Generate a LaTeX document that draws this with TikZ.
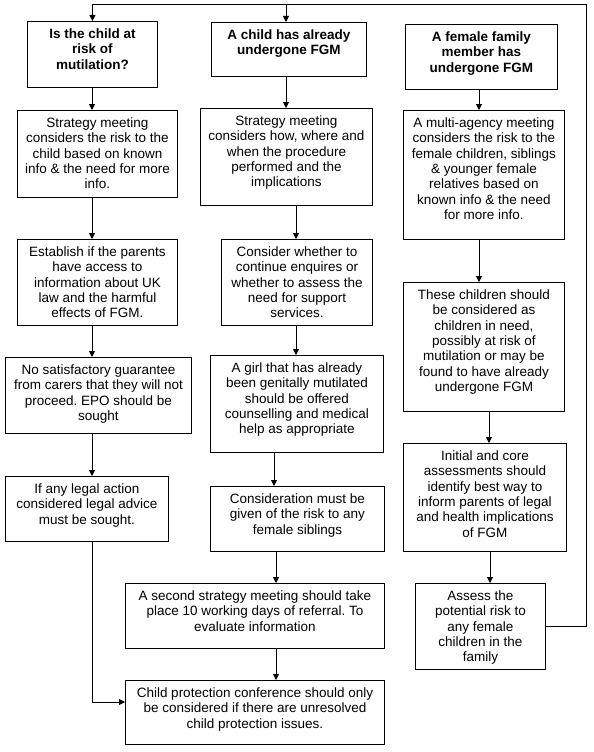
\documentclass[tikz,border=0pt]{standalone}
\usepackage{fontspec}
\setmainfont{Liberation Sans}
\usetikzlibrary{arrows.meta}
\tikzset{
  >={Triangle[length=6pt,width=6pt]},
  box/.style={draw=black,line width=0.9pt,inner sep=0pt,anchor=north west,
    font=\fontsize{13.5}{15.3}\selectfont},
  title/.style={box,font=\fontsize{13.5}{15.3}\selectfont\bfseries},
  flow/.style={->,line width=0.9pt,draw=black},
}
\frenchspacing
% top aligned text in a box of fixed size (pixels)
\newcommand{\boxtext}[3]{\parbox[t][#2pt][t]{#1pt}{\centering\vspace*{6.5pt}\strut #3}}

\begin{document}
\begin{tikzpicture}[x=1pt,y=-1pt]
  \useasboundingbox (0,0) rectangle (594,752);
  % headings
  \node[title] (A1) at (27,21) {\boxtext{130}{66}{Is the child at\\risk of\\mutilation?}};
  \node[title] (B1) at (211,22) {\boxtext{155}{54}{A child has already\\undergone FGM}};
  \node[title] (C1) at (405,24) {\boxtext{152}{65}{A female family\\member has\\undergone FGM}};
  % left column
  \node[box] (A2) at (17,110) {\boxtext{160}{87}{Strategy meeting\\considers the risk to the\\child based on known\\info \& the need for more\\info.}};
  \node[box] (A3) at (17,239) {\boxtext{160}{86}{Establish if the parents\\have access to\\information about UK\\law and the harmful\\effects of FGM.}};
  \node[box] (A4) at (5,357) {\boxtext{186}{76}{No satisfactory guarantee\\from carers that they will not\\proceed. EPO should be\\sought}};
  \node[box] (A5) at (5,476) {\boxtext{163}{65}{If any legal action\\considered legal advice\\must be sought.}};
  % middle column
  \node[box] (B2) at (200,108) {\boxtext{172}{97}{Strategy meeting\\considers how, where and\\when the procedure\\performed and the\\implications}};
  \node[box] (B3) at (221,239) {\boxtext{151}{86}{Consider whether to\\continue enquires or\\whether to assess the\\need for support\\services.}};
  \node[box] (B4) at (210,355) {\boxtext{173}{97}{A girl that has already\\been genitally mutilated\\should be offered\\counselling and medical\\help as appropriate}};
  \node[box] (B5) at (210,486) {\boxtext{174}{65}{Consideration must be\\given of the risk to any\\female siblings}};
  \node[box] (B6) at (125,583) {\boxtext{259}{65}{A second strategy meeting should take\\place 10 working days of referral. To\\evaluate information}};
  \node[box] (B7) at (125,680) {\boxtext{259}{64}{Child protection conference should only\\be considered if there are unresolved\\child protection issues.}};
  % right column
  \node[box] (C2) at (403,110) {\boxtext{161}{129}{A multi-agency meeting\\considers the risk to the\\female children, siblings\\\& younger female\\relatives based on\\known info \& the need\\for more info.}};
  \node[box] (C3) at (403,282) {\boxtext{161}{129}{These children should\\be considered as\\children in need,\\possibly at risk of\\mutilation or may be\\found to have already\\undergone FGM}};
  \node[box] (C4) at (403,443) {\boxtext{163}{108}{Initial and core\\assessments should\\identify best way to\\inform parents of legal\\and health implications\\of FGM}};
  \node[box] (C5) at (415,583) {\boxtext{130}{86}{Assess the\\potential risk to\\any female\\children in the\\family}};

  % downward arrows: from/to/x of the line
  \foreach \a/\b/\x in {A1/A2/92,A2/A3/92,A3/A4/92,A4/A5/92,
      B1/B2/286,B2/B3/296,B3/B4/296,B4/B5/274,B5/B6/276,B6/B7/276,
      C1/C2/479,C2/C3/479,C3/C4/489,C4/C5/490}
    \draw[flow] (\a.south -| \x,0) -- (\b.north -| \x,0);

  % loop back to the top
  \coordinate (loop) at (586,4);
  \coordinate (topB) at (286,4);
  \draw[flow] (C5.east) -| (loop) -| (A1.north);
  \draw[flow] (topB) -- (B1.north -| topB);

  % legal advice to the conference
  \coordinate (colA) at (92,702);
  \draw[flow] (A5.south -| colA) |- (B7.west |- colA);
\end{tikzpicture}
\end{document}
